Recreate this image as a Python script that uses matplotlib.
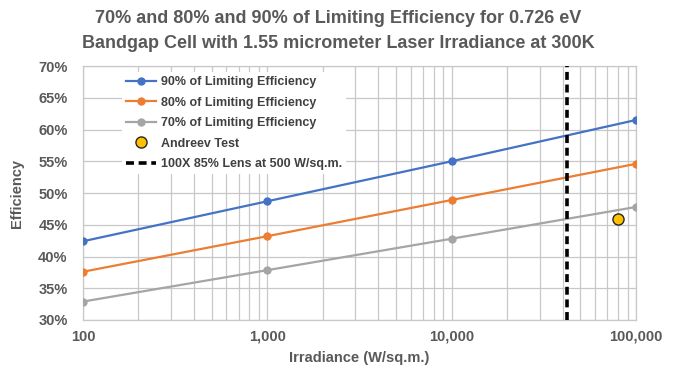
import matplotlib

matplotlib.use("Agg")
import matplotlib.pyplot as plt
from matplotlib.ticker import FixedLocator, FuncFormatter, LogLocator, MultipleLocator

plt.rcParams["font.family"] = ["Liberation Sans", "DejaVu Sans"]

# irradiance (W/sq.m.) and efficiency (%) at fractions of the limiting efficiency
irradiance = [100, 1000, 10000, 100000]
eff_90 = [42.4, 48.7, 55.0, 61.5]
eff_80 = [37.6, 43.2, 48.9, 54.6]
eff_70 = [32.9, 37.85, 42.8, 47.8]

andreev_x = [80000]
andreev_y = [45.9]

lens_irradiance = 500 * 100 * 0.85  # 100X lens, 85% transmission, 500 W/sq.m.

TEXT = "#595959"
GRID = "#c8c8c8"

fig = plt.figure(figsize=(6.76, 3.71), dpi=100)
ax = fig.add_axes([0.1228, 0.1375, 0.818, 0.6845])

ax.plot(irradiance, eff_90, color="#4472C4", lw=1.6, marker="o", ms=5,
        label="90% of Limiting Efficiency", zorder=3)
ax.plot(irradiance, eff_80, color="#ED7D31", lw=1.6, marker="o", ms=5,
        label="80% of Limiting Efficiency", zorder=3)
ax.plot(irradiance, eff_70, color="#A5A5A5", lw=1.6, marker="o", ms=5,
        label="70% of Limiting Efficiency", zorder=3)
ax.plot(andreev_x, andreev_y, ls="none", marker="o", ms=8, mfc="#FFC000",
        mec="#262626", mew=1.0, label="Andreev Test", zorder=4)
ax.axvline(lens_irradiance, color="black", lw=2.6, ls=(0, (2.2, 1.3)),
           label="100X 85% Lens at 500 W/sq.m.", zorder=3)

ax.set_xscale("log")
ax.set_xlim(100, 100000)
ax.set_ylim(30, 70)
ax.xaxis.set_major_locator(FixedLocator(irradiance))
ax.xaxis.set_minor_locator(LogLocator(base=10, subs=range(2, 10)))
ax.xaxis.set_major_formatter(FuncFormatter(lambda v, _: f"{v:,.0f}"))
ax.xaxis.set_minor_formatter(FuncFormatter(lambda v, _: ""))
ax.yaxis.set_major_locator(MultipleLocator(5))
ax.yaxis.set_major_formatter(FuncFormatter(lambda v, _: f"{v:.0f}%"))

ax.grid(True, which="both", axis="x", color=GRID, lw=0.9)
ax.grid(True, which="major", axis="y", color=GRID, lw=0.9)
ax.set_axisbelow(True)
for s in ax.spines.values():
    s.set_color(GRID)
    s.set_linewidth(0.9)
ax.tick_params(which="both", length=0)
ax.tick_params(axis="x", pad=7)
ax.tick_params(axis="y", pad=11)
for lbl in ax.get_xticklabels() + ax.get_yticklabels():
    lbl.set_fontsize(10.5)
    lbl.set_fontweight("bold")
    lbl.set_color(TEXT)

ax.set_xlabel("Irradiance (W/sq.m.)", fontsize=10.5, fontweight="bold",
              color=TEXT, labelpad=5)
ax.set_ylabel("Efficiency", fontsize=10.5, fontweight="bold", color=TEXT,
              labelpad=10)

leg = ax.legend(loc="upper left", bbox_to_anchor=(0.06, 1.0), frameon=True,
                facecolor="white", edgecolor="none", framealpha=1,
                fontsize=9, handlelength=2.4, labelspacing=0.68,
                borderpad=0.3, handletextpad=0.4)
for t in leg.get_texts():
    t.set_fontweight("bold")
    t.set_color("#404040")

fig.suptitle("70% and 80% and 90% of Limiting Efficiency for 0.726 eV\n"
             "Bandgap Cell with 1.55 micrometer Laser Irradiance at 300K",
             x=0.5, y=0.972, fontsize=13, fontweight="bold", color=TEXT,
             linespacing=1.6)

fig.savefig("out.png", dpi=100)
